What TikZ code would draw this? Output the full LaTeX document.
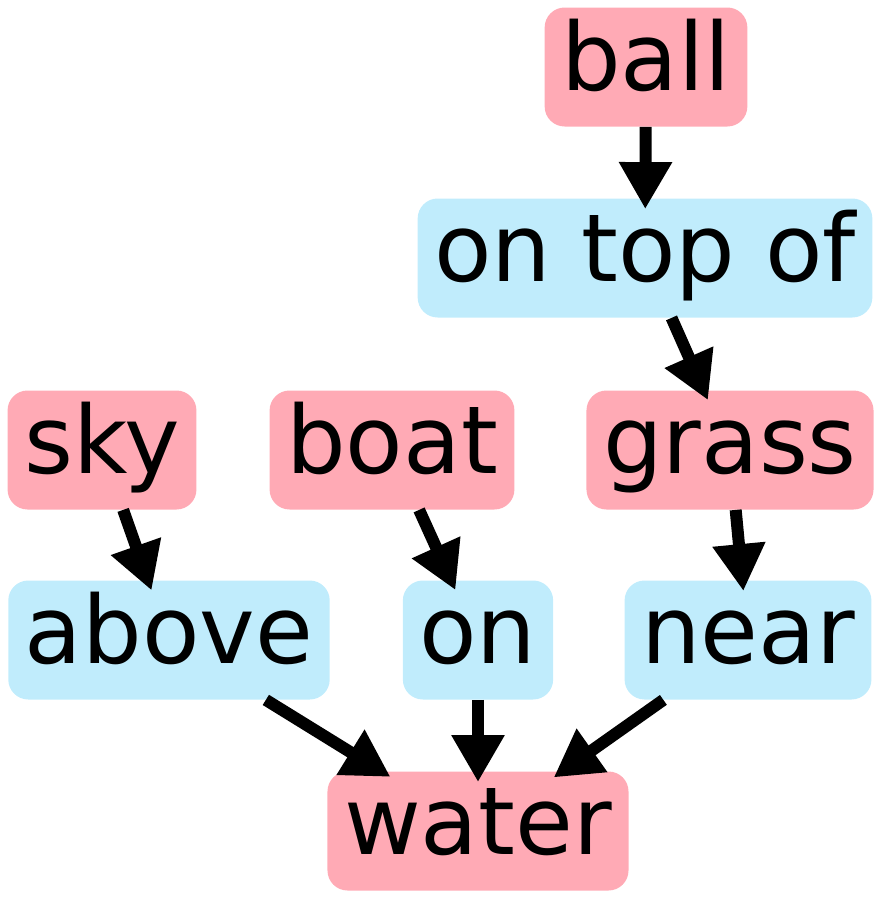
\documentclass[tikz,border=0pt]{standalone}
\usepackage{fontspec}
\setmainfont{DejaVu Sans}
\usetikzlibrary{arrows.meta}
\definecolor{objpink}{HTML}{FFAAB5}
\definecolor{relblue}{HTML}{C0ECFC}

\begin{document}
\begin{tikzpicture}[x=0.5pt,y=-0.5pt,
  box/.style={rounded corners=10pt,inner xsep=8.3pt,minimum height=59.5pt,
    text height=35pt,text depth=12pt,font=\fontsize{47}{52}\selectfont},
  obj/.style={box,fill=objpink},
  rel/.style={box,fill=relblue},
  link/.style={line width=6pt,-{Triangle[length=23.5pt,width=25pt]},shorten >=-5.5pt}]
\useasboundingbox (0,0) rectangle (882,900);
\node[obj] (ball) at (646,67) {ball};
\node[rel] (ontopof) at (645,258) {on top of};
\node[obj] (sky) at (102,450) {sky};
\node[obj] (boat) at (392,450) {boat};
\node[obj] (grass) at (730,450) {grass};
\node[rel] (above) at (169,640) {above};
\node[rel] (on) at (478,640) {on};
\node[rel] (near) at (748,640) {near};
\node[obj] (water) at (478,831) {water};
\draw[link] (ball) -- (ontopof);
\draw[link] (ontopof) -- (grass);
\draw[link] (sky) -- (above);
\draw[link] (boat) -- (on);
\draw[link] (grass) -- (near);
\draw[link] (above) -- (water);
\draw[link] (on) -- (water);
\draw[link] (near) -- (water);
\end{tikzpicture}
\end{document}
